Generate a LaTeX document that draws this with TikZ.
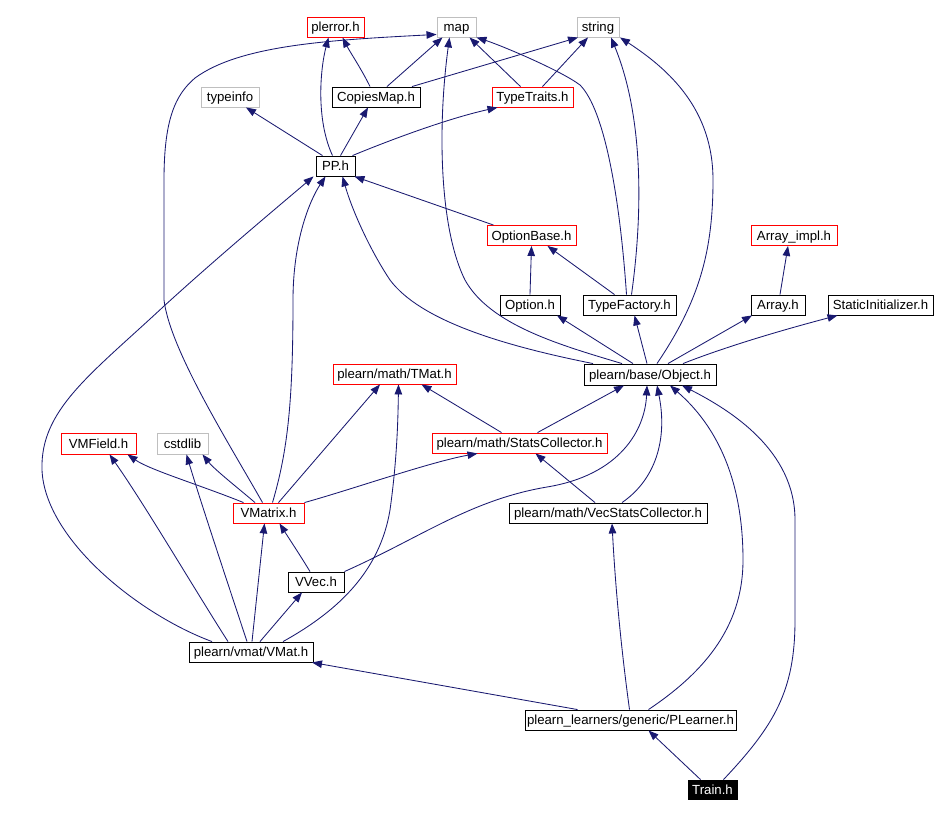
\documentclass[tikz,border=0pt]{standalone}
\usepackage{fontspec}
\setmainfont{Liberation Sans}
\usetikzlibrary{arrows.meta}
\definecolor{navy}{RGB}{25,25,112}
\definecolor{boxgray}{RGB}{191,191,191}
\begin{document}
\begin{tikzpicture}[x=1pt,y=-1pt,
  box/.style={rectangle, inner sep=0pt, line width=0.9pt, minimum height=20pt,
    font=\fontsize{13.2}{15}\selectfont, text height=9.4pt, text depth=0pt},
  bbox/.style={box, draw=black},
  rbox/.style={box, draw=red},
  gbox/.style={box, draw=boxgray},
  tbox/.style={box, draw=black, fill=black, text=white},
  dep/.style={draw=navy, line width=0.85pt, -{Triangle[length=10pt,width=7.5pt]}}]
\useasboundingbox (0,0) rectangle (937,817);

% nodes
\node[rbox, minimum width=57] (plerror) at (335.5,27) {plerror.h};
\node[gbox, minimum width=39] (map) at (456.5,27) {map};
\node[gbox, minimum width=42] (string) at (598,27) {string};
\node[gbox, minimum width=58] (typeinfo) at (230,97) {typeinfo};
\node[bbox, minimum width=88] (copies) at (376,97) {CopiesMap.h};
\node[rbox, minimum width=81] (traits) at (532.5,97) {TypeTraits.h};
\node[bbox, minimum width=39] (pp) at (335.5,166) {PP.h};
\node[rbox, minimum width=89] (optbase) at (531.5,235.5) {OptionBase.h};
\node[rbox, minimum width=86] (arrimpl) at (794,235.5) {Array\_impl.h};
\node[bbox, minimum width=60] (option) at (530,305) {Option.h};
\node[bbox, minimum width=93] (tfactory) at (629.5,305) {TypeFactory.h};
\node[bbox, minimum width=54] (array) at (778,305) {Array.h};
\node[bbox, minimum width=105] (static) at (880.5,305) {StaticInitializer.h};
\node[bbox, minimum width=132, minimum height=21] (obj) at (650,374.5) {plearn/base/Object.h};
\node[rbox, minimum width=123] (tmat) at (394.5,374) {plearn/math/TMat.h};
\node[rbox, minimum width=75, minimum height=21] (vmfield) at (98.5,443.5) {VMField.h};
\node[gbox, minimum width=51, minimum height=21] (cstdlib) at (182.5,443.5) {cstdlib};
\node[rbox, minimum width=71] (vmatrix) at (268.5,513) {VMatrix.h};
\node[rbox, minimum width=175] (stats) at (519.5,443) {plearn/math/StatsCollector.h};
\node[bbox, minimum width=198] (vecstats) at (608,513) {plearn/math/VecStatsCollector.h};
\node[bbox, minimum width=56] (vvec) at (316,582) {VVec.h};
\node[bbox, minimum width=124] (vmat) at (251,652) {plearn/vmat/VMat.h};
\node[bbox, minimum width=211] (plearner) at (630.5,720) {plearn\_learners/generic/PLearner.h};
\node[tbox, minimum width=49, minimum height=19] (train) at (712.5,789.5) {Train.h};

% edges
\draw[dep] ([xshift=-6]copies.north) .. controls (362,70) and (350,52) .. ([xshift=7]plerror.south);
\draw[dep] ([xshift=11]copies.north) -- ([xshift=-14]map.south);
\draw[dep] ([xshift=36]copies.north) -- ([xshift=-20]string.south);
\draw[dep] ([xshift=-12]traits.north) -- ([xshift=13]map.south);
\draw[dep] ([xshift=10]traits.north) -- ([xshift=-10]string.south);
\draw[dep] ([xshift=-13]pp.north) -- ([xshift=16]typeinfo.south);
\draw[dep] ([xshift=-3]pp.north) .. controls (316,120) and (320,70) .. ([xshift=-7]plerror.south);
\draw[dep] ([xshift=5]pp.north) -- ([xshift=-8]copies.south);
\draw[dep] ([xshift=17]pp.north) .. controls (395,138) and (450,118) .. ([xshift=-35]traits.south);
\draw[dep] ([xshift=-38]optbase.north) -- ([xshift=-1]pp.south east);
\draw[dep] (option.north) -- (optbase.south);
\draw[dep] ([xshift=-15]tfactory.north) -- ([xshift=16]optbase.south);
\draw[dep] ([xshift=-3]tfactory.north) .. controls (620,200) and (605,110) .. (580,85)
  .. controls (560,70) and (500,45) .. (map.south east);
\draw[dep] ([xshift=2]tfactory.north) .. controls (642,220) and (645,120) .. ([xshift=13]string.south);
\draw[dep] ([xshift=2]array.north) -- ([xshift=-6]arrimpl.south);
\draw[dep] ([xshift=-57]obj.north) .. controls (500,345) and (420,320) .. (390,280)
  .. controls (370,250) and (352,210) .. ([xshift=7]pp.south);
\draw[dep] ([xshift=-28]obj.north) .. controls (560,345) and (490,325) .. (465,280)
  .. controls (440,230) and (437,130) .. ([xshift=-7]map.south);
\draw[dep] ([xshift=7]obj.north) .. controls (700,300) and (713,250) .. (713,180)
  .. controls (713,110) and (670,70) .. ([xshift=22]string.south);
\draw[dep] ([xshift=-17]obj.north) -- ([xshift=27]option.south);
\draw[dep] ([xshift=-3]obj.north) -- ([xshift=5]tfactory.south);
\draw[dep] ([xshift=18]obj.north) -- ([xshift=-26]array.south);
\draw[dep] ([xshift=33]obj.north) .. controls (730,345) and (790,328) .. ([xshift=-43]static.south);
\draw[dep] ([xshift=18]stats.north) -- ([xshift=-26]obj.south);
\draw[dep] ([xshift=-18]stats.north) -- ([xshift=27]tmat.south);
\draw[dep] ([xshift=-13]vecstats.north) -- ([xshift=16]stats.south);
\draw[dep] ([xshift=14]vecstats.north) .. controls (655,480) and (668,440) .. ([xshift=7]obj.south);
\draw[dep] ([xshift=-25]vmatrix.north) .. controls (200,485) and (150,470) .. ([xshift=29]vmfield.south);
\draw[dep] ([xshift=-13.5]vmatrix.north) .. controls (238,488) and (215,470) .. ([xshift=20]cstdlib.south);
\draw[dep] ([xshift=-6]vmatrix.north) .. controls (230,445) and (170,350) .. (164,300)
  -- (164,180) .. controls (164,120) and (175,95) .. (195,78)
  .. controls (240,45) and (330,40) .. ([yshift=3]map.south west);
\draw[dep] ([xshift=4]vmatrix.north) .. controls (288,450) and (293,400) .. (293,300)
  .. controls (293,240) and (310,200) .. ([xshift=-10]pp.south);
\draw[dep] ([xshift=10]vmatrix.north) -- ([xshift=-14.5]tmat.south);
\draw[dep] (vmatrix.north east) .. controls (350,490) and (430,462) .. ([xshift=-42]stats.south);
\draw[dep] ([xshift=-6]vvec.north) .. controls (300,555) and (290,540) .. ([xshift=11]vmatrix.south);
\draw[dep] (vvec.north east) .. controls (420,538) and (470,500) .. (547,487)
  .. controls (620,475) and (645,430) .. ([xshift=-3]obj.south);
\draw[dep] ([xshift=-23]vmat.north) .. controls (195,590) and (145,505) .. ([xshift=11]vmfield.south);
\draw[dep] ([xshift=-4]vmat.north) .. controls (230,590) and (200,500) .. ([xshift=4]cstdlib.south);
\draw[dep] ([xshift=1]vmat.north) -- ([xshift=-4]vmatrix.south);
\draw[dep] ([xshift=9]vmat.north) -- ([xshift=-14]vvec.south);
\draw[dep] ([xshift=32]vmat.north) .. controls (340,610) and (380,570) .. (390,510)
  .. controls (397,460) and (398,420) .. ([xshift=4]tmat.south);
\draw[dep] ([xshift=-39]vmat.north) .. controls (140,615) and (45,540) .. (42,470)
  .. controls (40,410) and (90,375) .. (163,307)
  .. controls (220,255) and (280,205) .. ([xshift=-22]pp.south);
\draw[dep] ([xshift=-53]plearner.north) -- ([xshift=61]vmat.south);
\draw[dep] ([xshift=-1]plearner.north) .. controls (620,640) and (615,580) .. ([xshift=4]vecstats.south);
\draw[dep] ([xshift=18]plearner.north) .. controls (700,675) and (743,630) .. (743,560)
  .. controls (743,470) and (710,420) .. ([xshift=20]obj.south);
\draw[dep] ([xshift=11]train.north) .. controls (775,725) and (795,690) .. (795,620)
  -- (795,520) .. controls (795,450) and (730,410) .. ([xshift=32]obj.south);
\draw[dep] ([xshift=-12]train.north) -- ([xshift=18]plearner.south);
\end{tikzpicture}
\end{document}
